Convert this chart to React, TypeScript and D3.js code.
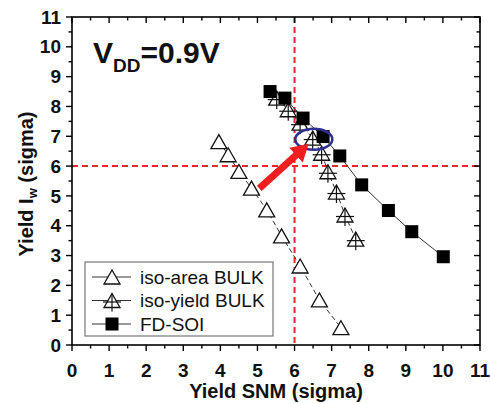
import React from "react";
import * as d3 from "d3";

const isoAreaX = [3.96, 4.21, 4.5, 4.84, 5.25, 5.65, 6.15, 6.67, 7.25];
const isoAreaY = [6.82, 6.38, 5.82, 5.26, 4.53, 3.66, 2.65, 1.51, 0.58];
const isoYieldX = [5.52, 5.83, 6.15, 6.49, 6.73, 6.9, 7.13, 7.36, 7.65];
const isoYieldY = [8.28, 7.89, 7.44, 6.94, 6.43, 5.81, 5.13, 4.36, 3.55];
const fdsoiX = [5.34, 5.74, 6.23, 6.77, 7.22, 7.81, 8.53, 9.16, 10.01];
const fdsoiY = [8.5, 8.28, 7.61, 6.99, 6.34, 5.37, 4.51, 3.8, 2.96];
const majorTicks = [0, 1, 2, 3, 4, 5, 6, 7, 8, 9, 10, 11];
const minorTicks = [0.5, 1.5, 2.5, 3.5, 4.5, 5.5, 6.5, 7.5, 8.5, 9.5, 10.5];
const seriesNames = ["iso-area BULK", "iso-yield BULK", "FD-SOI"];
const refX = 6;
const refY = 6;
const arrowFrom = [5.05, 5.25];
const arrowTo = [6.38, 6.75];
const ellipseCenter = [6.52, 6.9];

const FONT = "'Liberation Sans', Arial, Helvetica, sans-serif";

const x = d3.scaleLinear().domain([0, 11]).range([72, 480]);
const y = d3.scaleLinear().domain([0, 11]).range([345, 17]);

function Tri({ cx, cy, cross }: { cx: number; cy: number; cross?: boolean }) {
  const w = 8, h = 7;
  return (
    <g>
      <polygon
        points={`${cx},${cy - h} ${cx - w},${cy + h} ${cx + w},${cy + h}`}
        fill="white"
        stroke="#111"
        strokeWidth={1.3}
      />
      {cross && (
        <g stroke="#111" strokeWidth={1.2}>
          <line x1={cx - 9} x2={cx + 9} y1={cy + 1.5} y2={cy + 1.5} />
          <line x1={cx} x2={cx} y1={cy - h} y2={cy + h + 4} />
        </g>
      )}
    </g>
  );
}

function Sq({ cx, cy }: { cx: number; cy: number }) {
  const s = 13;
  return <rect x={cx - s / 2} y={cy - s / 2} width={s} height={s} fill="#000" />;
}

export default function App() {
  const line = d3
    .line<[number, number]>()
    .x((d) => x(d[0]))
    .y((d) => y(d[1]));
  const areaPts = isoAreaX.map((v, i) => [v, isoAreaY[i]] as [number, number]);
  const yieldPts = isoYieldX.map((v, i) => [v, isoYieldY[i]] as [number, number]);
  const soiPts = fdsoiX.map((v, i) => [v, fdsoiY[i]] as [number, number]);

  const [x0, x1] = x.range();
  const [yb, yt] = y.range();

  // arrow geometry
  const ax0 = x(arrowFrom[0]), ay0 = y(arrowFrom[1]);
  const ax1 = x(arrowTo[0]), ay1 = y(arrowTo[1]);
  const dx = ax1 - ax0, dy = ay1 - ay0;
  const len = Math.hypot(dx, dy);
  const ux = dx / len, uy = dy / len;
  const px = -uy, py = ux;
  const headL = 17, headW = 10;
  const bx = ax1 - ux * headL, by = ay1 - uy * headL;

  return (
    <svg
      width={490}
      height={404}
      style={{ position: "absolute", left: 0, top: 0, background: "white" }}
      fontFamily={FONT}
    >
      <rect width={490} height={404} fill="white" />
      {/* reference dashed lines */}
      <g stroke="#e8262b" strokeWidth={2} strokeDasharray="6,4">
        <line x1={x(refX)} x2={x(refX)} y1={yt} y2={yb} />
        <line x1={x0} x2={x1} y1={y(refY)} y2={y(refY)} />
      </g>

      {/* series lines */}
      <path d={line(areaPts) || ""} fill="none" stroke="#333" strokeWidth={1} strokeDasharray="5,3" />
      <path d={line(yieldPts) || ""} fill="none" stroke="#333" strokeWidth={1} strokeDasharray="5,3" />
      <path d={line(soiPts) || ""} fill="none" stroke="#333" strokeWidth={1} />

      {areaPts.map((d, i) => (
        <Tri key={"a" + i} cx={x(d[0])} cy={y(d[1])} />
      ))}
      {yieldPts.map((d, i) => (
        <Tri key={"b" + i} cx={x(d[0])} cy={y(d[1])} cross />
      ))}
      {soiPts.map((d, i) => (
        <Sq key={"c" + i} cx={x(d[0])} cy={y(d[1])} />
      ))}

      {/* annotation ellipse */}
      <ellipse
        cx={x(ellipseCenter[0])}
        cy={y(ellipseCenter[1])}
        rx={18.5}
        ry={10.5}
        fill="none"
        stroke="#2e3192"
        strokeWidth={2.5}
      />
      {/* arrow */}
      <line x1={ax0} y1={ay0} x2={bx + ux * 2} y2={by + uy * 2} stroke="#f01e1e" strokeWidth={7} />
      <polygon
        points={`${ax1},${ay1} ${bx + px * headW},${by + py * headW} ${bx - px * headW},${by - py * headW}`}
        fill="#f01e1e"
      />

      {/* frame */}
      <rect x={x0} y={yt} width={x1 - x0} height={yb - yt} fill="none" stroke="#000" strokeWidth={1.6} />

      {/* ticks */}
      <g stroke="#000" strokeWidth={1.4}>
        {majorTicks.map((t) => (
          <g key={"mj" + t}>
            <line x1={x(t)} x2={x(t)} y1={yb} y2={yb + 6} />
            <line x1={x(t)} x2={x(t)} y1={yt} y2={yt + 6} />
            <line x1={x0} x2={x0 - 6} y1={y(t)} y2={y(t)} />
            <line x1={x1} x2={x1 - 6} y1={y(t)} y2={y(t)} />
          </g>
        ))}
        {minorTicks.map((t) => (
          <g key={"mn" + t}>
            <line x1={x(t)} x2={x(t)} y1={yb} y2={yb + 3.5} />
            <line x1={x(t)} x2={x(t)} y1={yt} y2={yt + 3.5} />
            <line x1={x0} x2={x0 - 3.5} y1={y(t)} y2={y(t)} />
            <line x1={x1} x2={x1 - 3.5} y1={y(t)} y2={y(t)} />
          </g>
        ))}
      </g>

      {/* tick labels */}
      <g fontSize={19} fontWeight="bold" fill="#111">
        {majorTicks.map((t) => (
          <text key={"xl" + t} x={x(t)} y={377} textAnchor="middle">
            {t}
          </text>
        ))}
        {majorTicks.map((t) => (
          <text key={"yl" + t} x={61} y={y(t)} dy="0.35em" textAnchor="end">
            {t}
          </text>
        ))}
      </g>

      {/* axis titles */}
      <text x={(x0 + x1) / 2} y={398} textAnchor="middle" fontSize={20} fontWeight="bold" fill="#111">
        Yield SNM (sigma)
      </text>
      <text
        transform={`translate(33,${184}) rotate(-90)`}
        textAnchor="middle"
        fontSize={20}
        fontWeight="bold"
        fill="#111"
      >
        Yield I<tspan fontSize={13} dy={4}>w</tspan>
        <tspan dy={-4}> (sigma)</tspan>
      </text>

      {/* VDD label */}
      <text x={93} y={63} fontSize={30} fontWeight="bold" fill="#111">
        V<tspan fontSize={19} dy={8.5}>DD</tspan>
        <tspan dy={-8.5}>=0.9V</tspan>
      </text>

      {/* legend */}
      <rect x={85} y={262} width={188} height={74} fill="white" stroke="#777" strokeWidth={1.2} />
      {seriesNames.map((name, i) => {
        const cy = 277 + i * 23.5;
        return (
          <g key={name}>
            <line x1={92} x2={131} y1={cy} y2={cy} stroke="#333" strokeWidth={1} />
            {i === 0 && <Tri cx={112} cy={cy} />}
            {i === 1 && <Tri cx={112} cy={cy} cross />}
            {i === 2 && <Sq cx={112} cy={cy} />}
            <text x={140} y={cy} dy="0.36em" fontSize={19} fill="#111">
              {name}
            </text>
          </g>
        );
      })}
    </svg>
  );
}
